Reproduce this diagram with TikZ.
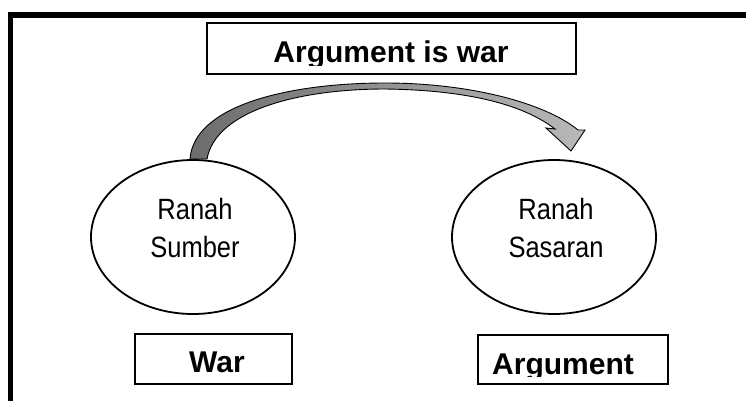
\documentclass[tikz,border=0pt]{standalone}
\usepackage{fontspec}
\setmainfont{Liberation Sans}
\newcommand{\tallB}[1]{\scalebox{1}[1.15]{#1}}
\begin{document}
\begin{tikzpicture}[x=1pt,y=-1pt,
  boxstyle/.style={draw=black,line width=2.2pt,fill=white},
  ellstyle/.style={draw=black,line width=1.8pt},
  boldlbl/.style={font=\fontsize{30}{32}\selectfont\bfseries,anchor=base,inner sep=0pt},
  elllbl/.style={font=\fontsize{25.5}{29}\selectfont,anchor=base,inner sep=0pt}]
\useasboundingbox (0,0) rectangle (746,401);
% frame
\draw[line width=6pt] (8,15) -- (746,15);
\draw[line width=5.3pt] (10.7,12) -- (10.7,401);
% title box
\path[boxstyle] (207,23) rectangle (576,74);
\begin{scope}
\clip (200,20) rectangle (580,66);
\node[boldlbl] (title) at (391,63) {Argument is war};
\end{scope}
% ellipses
\draw[ellstyle] (193,237) ellipse [x radius=102, y radius=77];
\draw[ellstyle] (554,237) ellipse [x radius=102, y radius=77];
\node[elllbl] (r1) at (195,219) {\tallB{Ranah}};
\node[elllbl] (s1) at (195,257) {\tallB{Sumber}};
\node[elllbl] (r2) at (556,219) {\tallB{Ranah}};
\node[elllbl] (s2) at (556,257) {\tallB{Sasaran}};
% bottom boxes
\path[boxstyle] (135,334) rectangle (292,384);
\node[boldlbl] (war) at (217,372) {War};
\path[boxstyle] (478,335) rectangle (668,384);
\begin{scope}
\clip (470,330) rectangle (670,376);
\node[boldlbl] (arg) at (563,374) {Argument};
\end{scope}
% curved block arrow
\path[draw=black,line width=0.9pt,left color=gray!85!black,right color=gray!55]
 (190,159) .. controls (194,105) and (290,83) .. (385,83)
 .. controls (470,83) and (545,103) .. (578,130)
 -- (585,130) -- (571,151) -- (546,128) -- (555,129)
 .. controls (520,102) and (460,90) .. (385,89)
 .. controls (300,89) and (216,110) .. (207,159) -- cycle;
\end{tikzpicture}
\end{document}
